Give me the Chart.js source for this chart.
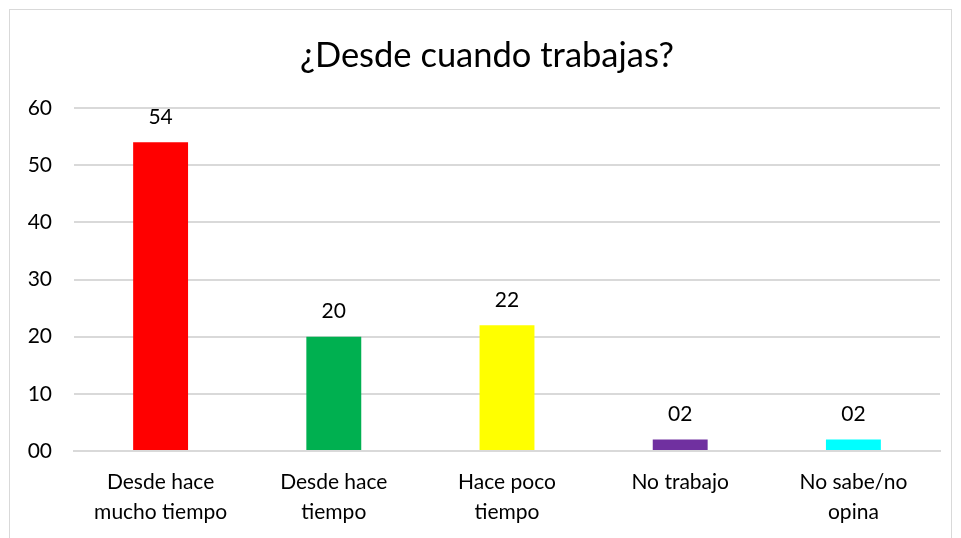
<!DOCTYPE html>
<html>
<head>
<meta charset="utf-8">
<script src="https://cdn.jsdelivr.net/npm/chart.js@4"></script>
<style>
  body { margin: 0; background: #fff; }
  #frame { position: absolute; left: 9px; top: 9px; width: 941px; height: 540px; border: 1px solid #d9d9d9; }
  #chart { position: absolute; left: 0; top: 0; }
</style>
</head>
<body>
<div id="frame"></div>
<canvas id="chart" width="961" height="538"></canvas>
<script>
let chartTitle = "¿Desde cuando trabajas?";
let categories = [["Desde hace", "mucho tiempo"], ["Desde hace", "tiempo"], ["Hace poco", "tiempo"], "No trabajo", ["No sabe/no", "opina"]];
let values = [54, 20, 22, 2, 2];
let barColors = ["#FF0000", "#00B050", "#FFFF00", "#7030A0", "#00FFFF"];
let yTicks = [0, 10, 20, 30, 40, 50, 60];

const pad2 = v => String(v).padStart(2, "0");

// value labels above each bar
const barLabels = {
    id: "barLabels",
    afterDatasetsDraw(chart) {
        let ctx = chart.ctx;
        let meta = chart.getDatasetMeta(0);
        ctx.save();
        ctx.font = "21px Lato";
        ctx.fillStyle = "#000";
        ctx.textAlign = "center";
        ctx.textBaseline = "middle";
        meta.data.forEach((bar, i) => {
            ctx.fillText(pad2(values[i]), bar.x, bar.y - 25);
        });
        ctx.restore();
    }
};

// title centred on the frame like the original, not on the canvas
const frameTitle = {
    id: "frameTitle",
    afterDraw(chart) {
        let ctx = chart.ctx;
        ctx.save();
        ctx.font = "34.5px Lato";
        ctx.fillStyle = "#000";
        ctx.textAlign = "center";
        ctx.textBaseline = "middle";
        ctx.fillText(chartTitle, 487, 56);
        ctx.restore();
    }
};

let ctx = document.getElementById("chart").getContext("2d");

let chart = new Chart(ctx, {
    type: "bar",
    data: {
        labels: categories,
        datasets: [{
            data: values,
            backgroundColor: barColors,
            categoryPercentage: 1,
            barPercentage: 0.317
        }]
    },
    options: {
        responsive: false,
        animation: false,
        layout: { padding: { left: 0, right: 21, top: 108, bottom: 0 } },
        plugins: {
            legend: { display: false },
            tooltip: { enabled: false },
            title: { display: false }
        },
        scales: {
            x: {
                grid: { display: false, drawTicks: false },
                border: { color: "#d9d9d9", width: 2 },
                ticks: {
                    color: "#000",
                    font: { family: "Lato", size: 21, lineHeight: 1.43 },
                    padding: 16,
                    autoSkip: false,
                    maxRotation: 0
                },
                afterFit(scale) { scale.height = 87; }
            },
            y: {
                min: 0,
                max: 60,
                afterBuildTicks(scale) { scale.ticks = yTicks.map(v => ({ value: v })); },
                grid: { color: "#d9d9d9", lineWidth: 2, drawTicks: false },
                border: { display: false },
                ticks: {
                    color: "#000",
                    font: { family: "Lato", size: 21 },
                    padding: 22,
                    callback: v => pad2(v)
                },
                afterFit(scale) { scale.width = 74; }
            }
        }
    },
    plugins: [barLabels, frameTitle]
});
</script>
</body>
</html>
